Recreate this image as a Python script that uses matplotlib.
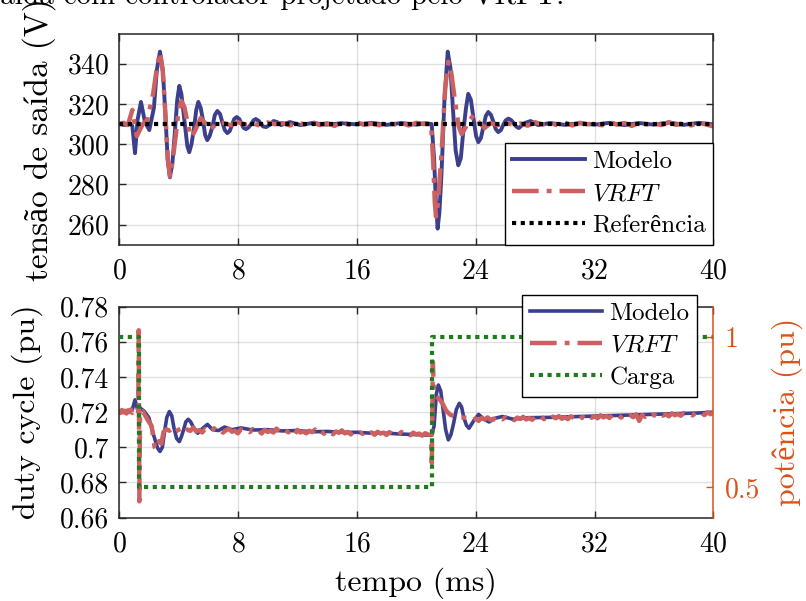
import numpy as np
import matplotlib
matplotlib.use('Agg')
import matplotlib.pyplot as plt

plt.rcParams['font.family'] = ['cmr10', 'Liberation Serif']
plt.rcParams['mathtext.fontset'] = 'cm'
plt.rcParams['axes.formatter.use_mathtext'] = True

NAVY = '#3C3F8C'
RED = '#CD6161'
GREEN = '#1D7D1D'
ORANGE = '#D95319'
AXC = '#262626'

# --- tensão de saída (V) ---
t_ref = [0, 40]
v_ref = [310, 310]

t_mod_v = [0.0, 0.4, 0.7, 0.9, 1.08, 1.25, 1.48, 1.75, 2.04, 2.35, 2.55, 2.76, 2.95, 3.1,
           3.28, 3.43, 3.6, 3.75, 3.92, 4.06, 4.2, 4.4, 4.6, 4.73, 4.88, 5.05, 5.2, 5.34,
           5.5, 5.65, 5.8, 5.94, 6.1, 6.3, 6.45, 6.62, 6.8, 6.95, 7.12, 7.29, 7.45, 7.6,
           7.75, 7.92, 8.1, 8.25, 8.4, 8.55, 8.7, 8.9, 9.05, 9.2, 9.4, 9.55, 9.7, 9.9,
           10.15, 10.4, 10.65, 10.9, 11.5, 12.2, 13, 14, 15, 16, 17, 18, 19,
           20, 20.6, 21.04, 21.2, 21.32, 21.44, 21.56, 21.7, 21.9, 22.12, 22.3, 22.45,
           22.65, 22.83, 23.0, 23.15, 23.35, 23.5, 23.68, 23.85, 24.03, 24.18, 24.35,
           24.5, 24.68, 24.85, 25.03, 25.2, 25.35, 25.52, 25.7, 25.85, 26.02, 26.2,
           26.38, 26.55, 26.72, 26.9, 27.3, 27.7, 28.2,
           29, 30, 31, 32, 33, 34, 35, 36, 37, 38, 39, 40]
v_mod = [310, 309.5, 310.5, 309, 295.5, 312, 321, 311, 307, 318, 337, 346, 337, 318,
         292, 283.5, 291, 305, 322, 329, 325, 312, 299, 296, 300, 308, 317, 321,
         318, 312, 304.5, 302, 304, 309, 314.5, 316.5, 315, 311, 307, 305.5, 306.5, 309.5,
         312.5, 313.5, 312.5, 310, 308, 307.5, 308.2, 310, 311.8, 312.5, 311.6, 310, 308.8, 308.5,
         309.6, 311.5, 311, 309.5, 311, 309.5, 310.5, 309.7, 310.4,
         309.8, 310.6, 309.6, 310.5, 309.7, 310.4, 310, 293, 272, 258, 266, 285, 322, 346,
         338, 320, 297, 289.5, 293, 305, 318, 325, 322, 313, 304, 301, 303,
         308, 314, 316, 314.5, 311, 307.5, 306, 307, 309.5, 311.8, 312.7,
         312, 310.5, 308.8, 308, 310.5, 311.5, 309.5,
         310.5, 309.6, 310.4, 309.7, 310.6, 309.5, 310.5, 309.7, 310.8, 309.6,
         310.6, 309.8]

t_vrft_v1 = [0.0, 0.3, 0.6, 0.9, 1.2, 1.6, 1.9, 2.3, 2.55, 2.76, 2.95, 3.1, 3.28, 3.43,
             3.6, 3.8, 4.0, 4.2, 4.4, 4.55, 4.75, 4.9, 5.2, 5.5, 5.85, 6.2, 6.6]
v_vrft1 = [310, 310.6, 309.5, 317, 304, 310, 312, 325, 338, 345.5, 336, 318, 293, 284,
           291, 303, 316, 321.5, 318.5, 313, 306, 303.5, 308, 313, 310, 307.5, 310.5]
v_vrft2 = [310.6, 309.4, 310.9, 309.7, 310.3, 309.2, 310.8, 309.9, 310.5, 309.3, 310.7,
           309.8, 311.0, 309.5, 310.4, 309.1, 310.6, 309.7, 310.9, 309.6, 310.2, 309.4,
           310.8, 309.8, 310.5, 309.3, 310.6, 310.0]
t_vrft_v3 = [21.0, 21.15, 21.25, 21.33, 21.45, 21.7, 21.95, 22.16, 22.35, 22.6, 22.85,
             23.06, 23.45, 23.84, 24.2, 24.6]
v_vrft3 = [310, 290, 271, 264, 270, 295, 328, 341, 336, 322, 309, 305, 310, 314.5, 311, 308]
v_vrft4 = [310.5, 309.4, 310.8, 309.6, 310.3, 309.2, 310.9, 309.8, 310.4, 309.5, 310.7,
           309.3, 310.6, 309.9, 310.2, 309.4, 310.8, 309.7, 310.5, 309.1, 310.6, 309.8,
           310.3, 309.5, 310.9, 309.6, 310.4, 309.3, 310.7, 309.8, 308.8]

# --- duty cycle (pu) ---
t_mod_d = [0, 0.5, 0.9, 1.08, 1.25, 1.4, 1.7, 2.0, 2.4, 2.6, 2.76, 2.92, 3.05, 3.22, 3.39,
           3.55, 3.7, 3.88, 4.06, 4.2, 4.35, 4.5, 4.66, 4.82, 5.0, 5.3, 5.6, 5.95, 6.3,
           6.7, 7.1, 7.6, 8.2, 9, 10, 11, 12, 13, 14, 15,
           16, 17, 18, 19, 20, 21.05, 21.2, 21.35, 21.49, 21.65, 21.8, 21.98, 22.16,
           22.33, 22.5, 22.7, 22.9, 23.05, 23.2, 23.38, 23.55,
           23.9, 24.2, 24.55, 24.9, 25.3, 25.8, 26.5, 27.5, 29, 31, 33, 35, 37, 39, 40]
d_mod = [0.7205, 0.7200, 0.7215, 0.7270, 0.7215, 0.7225, 0.7205, 0.7170, 0.7050, 0.6995,
         0.6976, 0.7000, 0.7080, 0.7170, 0.7203, 0.7180, 0.7110, 0.7050, 0.7032, 0.7060,
         0.7100, 0.7145, 0.7159, 0.7145, 0.7115, 0.7080, 0.7105, 0.7130,
         0.7100, 0.7095, 0.7115, 0.7100, 0.7110, 0.7098, 0.7100, 0.7093, 0.7095, 0.7088,
         0.7090, 0.7085, 0.7085, 0.7080, 0.7080, 0.7075, 0.7072, 0.7068, 0.7120, 0.7300,
         0.7354, 0.7320, 0.7220, 0.7100, 0.7042, 0.7070, 0.7130, 0.7215, 0.7250, 0.7230,
         0.7170, 0.7125, 0.7108, 0.7155, 0.7187, 0.7160, 0.7144,
         0.7165, 0.7175, 0.7160, 0.7168, 0.7170, 0.7175, 0.7180, 0.7185, 0.7190, 0.7195,
         0.7200]

t_vrft_d1 = [0.0, 0.1, 0.2, 0.3, 0.4, 0.5, 0.6, 0.7, 0.8, 0.9, 1.0, 1.1, 1.2, 1.3, 1.33,
             1.37, 1.42, 1.6, 1.9, 2.2, 2.4, 2.55, 2.7, 2.85]
d_vrft1 = [0.7205, 0.7195, 0.7212, 0.7198, 0.7208, 0.7192, 0.7210, 0.7200, 0.7215, 0.7196,
           0.7208, 0.7199, 0.7212, 0.7203, 0.7666, 0.6692, 0.7200, 0.7205, 0.7160, 0.7120,
           0.7000, 0.6990, 0.7035, 0.7020]
d_vrft2 = [0.7088, 0.7102, 0.7094, 0.7110, 0.7089, 0.7099, 0.7106, 0.7085, 0.7101, 0.7093,
           0.7112, 0.7090, 0.7098, 0.7084, 0.7104, 0.7095, 0.7087, 0.7108, 0.7092, 0.7100,
           0.7083, 0.7097, 0.7105, 0.7088, 0.7094, 0.7079, 0.7101, 0.7090, 0.7096, 0.7086,
           0.7103, 0.7089, 0.7095, 0.7078, 0.7099, 0.7087, 0.7093, 0.7084, 0.7106, 0.7088,
           0.7081, 0.7096, 0.7085, 0.7092, 0.7070, 0.7099, 0.7084, 0.7090, 0.7079, 0.7094,
           0.7086, 0.7101, 0.7080, 0.7089, 0.7077, 0.7093, 0.7085, 0.7074, 0.7090, 0.7082,
           0.7096, 0.7079, 0.7087, 0.7073, 0.7091, 0.7080, 0.7085, 0.7076, 0.7092, 0.7079,
           0.7084, 0.7071, 0.7088, 0.7078, 0.7083, 0.7070, 0.7086, 0.7075, 0.7081, 0.7072,
           0.7087, 0.7074, 0.7079, 0.7068, 0.7083, 0.7073, 0.7078, 0.7066, 0.7080, 0.7072]
t_vrft_d3 = [21.0, 21.05, 21.12, 21.2, 21.37, 21.6, 21.8, 22.0, 22.27, 22.6, 23.0, 23.4]
d_vrft3 = [0.7068, 0.6910, 0.7486, 0.7300, 0.7288, 0.7270, 0.7245, 0.7210, 0.7186, 0.7175,
           0.7170, 0.7167]
d_vrft4 = [0.7168, 0.7155, 0.7163, 0.7150, 0.7166, 0.7158, 0.7170, 0.7156, 0.7162, 0.7152,
           0.7167, 0.7159, 0.7171, 0.7157, 0.7164, 0.7154, 0.7169, 0.7161, 0.7173, 0.7158,
           0.7166, 0.7156, 0.7172, 0.7163, 0.7175, 0.7160, 0.7168, 0.7158, 0.7174, 0.7165,
           0.7177, 0.7162, 0.7170, 0.7160, 0.7176, 0.7167, 0.7179, 0.7164, 0.7172, 0.7163,
           0.7180, 0.7168, 0.7176, 0.7165, 0.7182, 0.7170, 0.7178, 0.7167, 0.7184, 0.7172,
           0.7180, 0.7169, 0.7186, 0.7174, 0.7182, 0.7171, 0.7188, 0.7150, 0.7183, 0.7173,
           0.7189, 0.7178, 0.7185, 0.7175, 0.7191, 0.7180, 0.7187, 0.7176, 0.7193, 0.7182,
           0.7189, 0.7179, 0.7195, 0.7184, 0.7191, 0.7181, 0.7197, 0.7186, 0.7193, 0.7183,
           0.7199, 0.7188, 0.7196]

# carga (potência em pu)
t_carga = [0, 1.35, 1.35, 21.05, 21.05, 40]
p_carga = [1, 1, 0.5, 0.5, 1, 1]

# juntando os trechos das curvas VRFT
t_vrft_v = t_vrft_v1 + list(np.arange(7.0, 20.51, 0.5)) + t_vrft_v3 + list(np.arange(25.0, 40.01, 0.5))
v_vrft = v_vrft1 + v_vrft2 + v_vrft3 + v_vrft4
t_vrft_d = t_vrft_d1 + list(np.arange(3.0, 20.81, 0.2)) + t_vrft_d3 + list(np.arange(23.6, 40.01, 0.2))
d_vrft = d_vrft1 + d_vrft2 + d_vrft3 + d_vrft4

vrft_dash = (0, (6, 1.8, 1.1, 1.8))

fig = plt.figure(figsize=(8.06, 6.01), dpi=100)
ax1 = fig.add_axes([0.1476, 0.5928, 0.7376, 0.3514])
ax2 = fig.add_axes([0.1476, 0.1389, 0.7376, 0.3508])

fig.text(0.70, 0.994, 'Tensão de saída com controlador projetado pelo VRFT.',
         ha='right', va='baseline', fontsize=21)

def style_axes(ax):
    ax.grid(True, color='#000000', alpha=0.12, linewidth=1)
    ax.set_axisbelow(True)
    for s in ax.spines.values():
        s.set_color(AXC)
        s.set_linewidth(1.1)
    ax.tick_params(direction='in', length=5, width=1, colors=AXC, labelsize=20,
                   labelcolor='black')
    ax.tick_params(axis='x', pad=10)
    ax.tick_params(axis='y', pad=7)
    ax.set_xlim(0, 40)
    ax.set_xticks([0, 8, 16, 24, 32, 40])

# tensão
style_axes(ax1)
ax1.tick_params(top=True, right=True)
ax1.plot(t_mod_v, v_mod, color=NAVY, lw=2.8, label='Modelo', solid_joinstyle='round')
ax1.plot(t_vrft_v, v_vrft, color=RED, lw=3.2, linestyle=vrft_dash, label='$VRFT$')
ax1.plot(t_ref, v_ref, color='black', lw=3, linestyle=(0, (1, 1.1)), label='Referência')
ax1.set_ylim(250, 355)
ax1.set_yticks([260, 280, 300, 320, 340])
ax1.set_ylabel('tensão de saída (V)', fontsize=24, labelpad=8)
leg1 = ax1.legend(loc='lower right', borderaxespad=0, fontsize=18, handlelength=2.9,
                  handletextpad=0.3, labelspacing=0.38, borderpad=0.3, fancybox=False,
                  framealpha=1, edgecolor='black')
leg1.get_frame().set_linewidth(1)

# duty cycle
style_axes(ax2)
ax2.tick_params(top=True, right=False)
ax2.plot(t_mod_d, d_mod, color=NAVY, lw=2.6, label='Modelo', solid_joinstyle='round')
ax2.plot(t_vrft_d, d_vrft, color=RED, lw=3.2, linestyle=vrft_dash, label='$VRFT$')
ax2.set_ylim(0.66, 0.78)
ax2.set_yticks([0.66, 0.68, 0.70, 0.72, 0.74, 0.76, 0.78])
ax2.set_yticklabels(['0.66', '0.68', '0.7', '0.72', '0.74', '0.76', '0.78'])
ax2.set_ylabel('duty cycle (pu)', fontsize=23, labelpad=12)
ax2.set_xlabel('tempo (ms)', fontsize=23, labelpad=7)
ax2.spines['right'].set_visible(False)

ax3 = ax2.twinx()
ax3.plot(t_carga, p_carga, color=GREEN, lw=3, linestyle=(0, (1, 1.1)), label='Carga')
ax3.set_ylim(0.4, 1.1)
ax3.set_yticks([0.5, 1])
ax3.set_yticklabels(['0.5', '1'])
ax3.tick_params(direction='in', length=5, width=1, colors=ORANGE, labelsize=20, pad=8)
for k, s in ax3.spines.items():
    s.set_visible(k == 'right')
ax3.spines['right'].set_color(ORANGE)
ax3.spines['right'].set_linewidth(1.1)
ax3.set_ylabel('potência (pu)', fontsize=23, color=ORANGE, rotation=90, labelpad=8)

# legenda da parte de baixo, canto superior direito em coordenadas da figura
h2, l2 = ax2.get_legend_handles_labels()
h3, l3 = ax3.get_legend_handles_labels()
leg2 = ax3.legend(h2 + h3, l2 + l3, loc='upper right', bbox_to_anchor=(697 / 806, 1 - 295 / 601),
                  bbox_transform=fig.transFigure, borderaxespad=0, fontsize=18,
                  handlelength=2.9, handletextpad=0.3, labelspacing=0.38, borderpad=0.3,
                  fancybox=False, framealpha=1, edgecolor='black')
leg2.get_frame().set_linewidth(1)

fig.savefig('out.png', dpi=100)
